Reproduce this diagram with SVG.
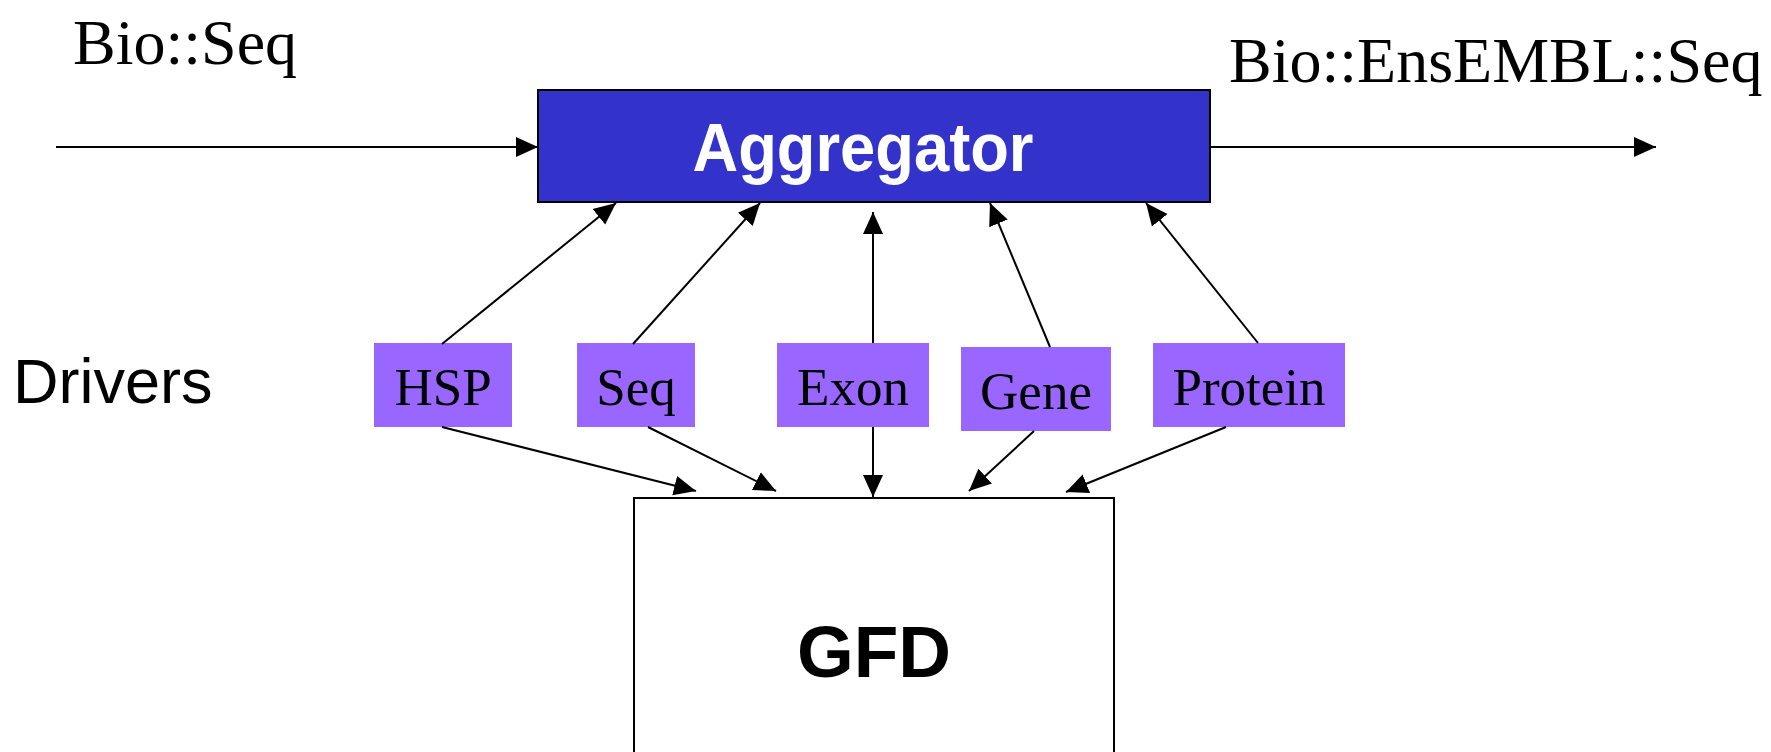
<svg xmlns="http://www.w3.org/2000/svg" width="1771" height="752" viewBox="0 0 1771 752">
<style>
.lbl{font-family:"Liberation Serif","Times New Roman",serif;fill:#000}
.drv rect{fill:#9966FF}
.drv text{font-family:"Liberation Serif","Times New Roman",serif;font-size:53px;text-anchor:middle;fill:#000}
.sans{font-family:"Liberation Sans",Arial,sans-serif}
.conn line{stroke:#000;stroke-width:2;fill:none}
</style>
<defs>
<marker id="ah" markerUnits="userSpaceOnUse" markerWidth="24" markerHeight="24" viewBox="0 0 24 24" refX="22" refY="12" orient="auto">
<path d="M0,2 L22,12 L0,22 Z" fill="#000"/>
</marker>
</defs>
<rect width="1771" height="752" fill="#fff"/>
<text class="lbl" x="73" y="64" font-size="64">Bio::Seq</text>
<text class="lbl" x="1229" y="82" font-size="64">Bio::EnsEMBL::Seq</text>
<text class="sans" x="13" y="403" font-size="63">Drivers</text>
<g id="aggregator">
<rect x="538" y="90" width="672" height="112" fill="#3333CC" stroke="#000" stroke-width="2"/>
<text class="sans" x="863" y="171" font-size="68" font-weight="bold" fill="#fff" text-anchor="middle" textLength="341" lengthAdjust="spacingAndGlyphs">Aggregator</text>
</g>
<g id="gfd">
<rect x="634" y="498" width="480" height="270" fill="#fff" stroke="#000" stroke-width="2"/>
<text class="sans" x="874" y="677" font-size="73" font-weight="bold" text-anchor="middle">GFD</text>
</g>
<g id="hsp" class="drv"><rect x="374" y="343" width="138" height="84"/><text x="443" y="405">HSP</text></g>
<g id="seq" class="drv"><rect x="577" y="343" width="118" height="84"/><text x="636" y="405">Seq</text></g>
<g id="exon" class="drv"><rect x="777" y="343" width="152" height="84"/><text x="853" y="405">Exon</text></g>
<g id="gene" class="drv"><rect x="961" y="347" width="150" height="84"/><text x="1036" y="409">Gene</text></g>
<g id="protein" class="drv"><rect x="1153" y="343" width="192" height="84"/><text x="1249" y="405">Protein</text></g>
<g id="connectors" class="conn">
<line x1="56" y1="147" x2="538" y2="147" marker-end="url(#ah)"/>
<line x1="1210" y1="147" x2="1656" y2="147" marker-end="url(#ah)"/>
<line x1="442" y1="344" x2="616" y2="203" marker-end="url(#ah)"/>
<line x1="633" y1="344" x2="760" y2="203" marker-end="url(#ah)"/>
<line x1="873" y1="343" x2="873" y2="212" marker-end="url(#ah)"/>
<line x1="1050" y1="347" x2="990" y2="203" marker-end="url(#ah)"/>
<line x1="1258" y1="343" x2="1146" y2="203" marker-end="url(#ah)"/>
<line x1="442" y1="427" x2="696" y2="491" marker-end="url(#ah)"/>
<line x1="648" y1="427" x2="776" y2="491" marker-end="url(#ah)"/>
<line x1="873" y1="427" x2="873" y2="497" marker-end="url(#ah)"/>
<line x1="1034" y1="431" x2="969" y2="491" marker-end="url(#ah)"/>
<line x1="1226" y1="427" x2="1066" y2="492" marker-end="url(#ah)"/>
</g>
</svg>
